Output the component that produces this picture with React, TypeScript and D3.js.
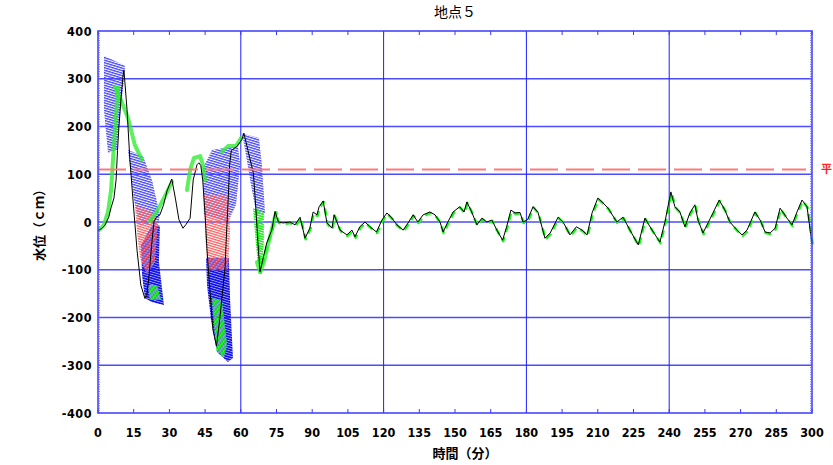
import React from "react";
import * as d3 from "d3";

// 時間（分）と水位（cm）
const tMin = [
  0, 1.5, 3, 4.5, 5.5, 6.7, 7.6, 8.2, 8.8, 9.7, 10.5, 10.9, 12.2, 13.4, 14.7, 16.4, 18, 19.7, 20.5, 21.5,
  22.5, 23.5, 24.5, 26, 27.5, 29, 31, 32.5, 34, 35.7, 37, 38.7, 40, 41.6, 42.4, 43.2, 44, 45, 45.8, 47,
  48.3, 49.8, 51, 52, 53.4, 54, 54.7, 55.3, 56, 58.3, 60.4, 61.3, 63, 65.3, 66.3, 67.4, 68.1, 69.5, 70.9, 73,
  74.4, 75.8, 77.8, 80.7, 82.8, 84.9, 87, 89, 90.4, 92, 92.9, 94.6, 96.2, 98.3, 99.2, 101.7, 104.6, 106.7, 108, 110,
  112.2, 114.3, 117, 119.3, 121.4, 123.5, 125.6, 128.2, 130.3, 132.4, 134.4, 136.6, 139.4, 141.6, 143.7, 145, 147, 149.2, 152, 153.8,
  155, 157, 159.2, 161.3, 163.4, 165.5, 167.6, 170, 171.7, 173.5, 175.2, 177.3, 178.6, 180.5, 182.8, 184.9, 187.8, 190, 193.3, 195.4,
  198.3, 201, 203.4, 205.5, 207.6, 210, 212.2, 214.3, 218, 220.6, 223.5, 227, 229.8, 232.8, 236.1, 238.2, 240.7, 242.4, 244.5, 246.6,
  248.7, 250.8, 252.1, 254.2, 256.3, 258.4, 261, 263.4, 265.5, 268.5, 270.6, 272.7, 276, 278.2, 280.3, 282.4, 284.5, 286.6, 289.5, 291.6,
  293.7, 295.8, 297.9, 300,
];
const level = [
  -18, -14, -6, 10, 30, 50, 88, 150, 200, 260, 305, 318, 235, 130, 46, -59, -132, -160, -155, -110,
  -50, 0, 10, 15, 35, 65, 90, 50, 5, -13, -5, 8, 88, 120, 124, 118, 88, 15, -59, -142,
  -226, -260, -210, -163, -94, -23, 46, 120, 150, 158, 172, 186, 150, 102, 30, -59, -104, -73, -44, -17,
  22, 0, -2, 0, -6, 10, -34, -13, 21, 15, 32, 44, -2, -13, 15, -17, -27, -17, -31, -10,
  0, -10, -21, 4, 19, 8, -6, -17, -2, 15, 0, 15, 21, 15, 0, -21, 0, 21, 32, 21,
  42, 21, -6, 8, 0, 4, -17, -38, -10, 25, 19, 20, 0, 5, 32, 20, -34, -23, 10, 0,
  -27, -10, -17, -27, 19, 50, 40, 29, 0, 10, -17, -48, 8, -17, -42, 0, 63, 32, 21, -10,
  19, 36, 4, -23, -2, 19, 46, 25, 0, -17, -27, -17, 21, 4, -21, -23, -13, 29, 8, -6,
  21, 46, 32, -45,
];

// 流況の範囲（時間, 水位）
const blueZones = [
  [[2.5, 348], [11.3, 327], [10.9, 297], [9.2, 224], [8, 151], [4.2, 145], [2.5, 235]],
  [[12.6, 151], [18.9, 138], [22.7, 88], [26, 15], [25.2, -6], [17.6, -6], [15.1, 46]],
  [[44.1, 113], [47.9, 151], [58.8, 159], [59.7, 119], [58, 36], [54.6, 0], [44.5, 15]],
  [[60.5, 186], [67.6, 176], [68.9, 119], [70.2, 17], [66.4, 21], [64.3, 77], [62.2, 140]],
];
const denseZones = [
  [[18.1, -48], [22.7, -6], [26, -8], [25.6, -84], [27.7, -174], [22.7, -168], [19.7, -159], [18.5, -111]],
  [[45.4, -75], [55, -75], [55.5, -163], [56.7, -285], [54.6, -293], [50, -272], [47.5, -205], [45.8, -132]],
];
const redZones = [
  [[15.5, 36], [21.8, 25], [25.2, 0], [23.9, -84], [20.6, -111], [17.6, -75], [16.4, -21]],
  [[44.5, 57], [54.6, 57], [55.5, -17], [54.6, -101], [46.2, -101], [45, -27]],
];
const greenZones = [
  [[21, -132], [24.8, -132], [26.5, -163], [21.8, -163]],
  [[47.9, -159], [52.1, -163], [54.2, -257], [52.9, -285], [49.6, -268]],
  [[65.1, 29], [69.7, 21], [69.7, -38], [68.9, -96], [67.2, -92], [66, -27]],
];
const greenBands = [
  [[0.8, -15], [2.5, -6], [4.2, 21], [5.5, 67], [6.3, 130], [7.1, 193], [8, 255], [8.4, 281]],
  [[7.1, 283], [9.7, 255], [12.6, 218], [15.5, 161], [18.5, 130]],
  [[21.8, 2], [24.4, 19], [27.3, 46], [29.4, 67], [31.1, 84]],
  [[37.4, 67], [38.7, 109], [40.3, 134], [42.9, 138], [44.1, 119], [45, 88]],
  [[52.1, 147], [54.6, 159], [58, 159], [60.1, 176]],
  [[66.8, -84], [68.1, -105], [69.7, -84], [71.4, -48], [73.5, -6], [74.8, 19]],
];

const meanLevel = 110;
const xTickLabels = [0, 15, 30, 45, 60, 75, 90, 105, 120, 135, 150, 165, 180, 195, 210, 225, 240, 255, 270, 285, 300];
const yTickLabels = [-400, -300, -200, -100, 0, 100, 200, 300, 400];
const xGrid = [60, 120, 180, 240];
const yGrid = [-300, -200, -100, 0, 100, 200, 300];

const W = 833;
const H = 465;
const left = 98, right = 812, top = 31, bottom = 413;

const numFont = "'DejaVu Sans Condensed', 'Liberation Sans Narrow', sans-serif";
const jpFont = "'Noto Sans CJK JP', sans-serif";

export default function App() {
  const x = d3.scaleLinear().domain([0, 300]).range([left, right]);
  const y = d3.scaleLinear().domain([-400, 400]).range([bottom, top]);

  const pts = tMin.map((t, i) => [t, level[i]] as [number, number]);
  const line = d3.line<[number, number]>().x((d) => x(d[0])).y((d) => y(d[1]));
  const calm = pts.filter((d) => d[0] >= 66);
  const poly = (z: number[][]) => z.map((d) => `${x(d[0])},${y(d[1])}`).join(" ");

  const yMinor = d3.range(-400, 401, 5);

  return (
    <svg width={W} height={H} style={{ position: "absolute", left: 0, top: 0, background: "#fff" }}>
      <defs>
        <pattern id="hb" width="6" height="2.4" patternUnits="userSpaceOnUse" patternTransform="rotate(17)">
          <rect width="6" height="1.3" fill="#4040ff" />
        </pattern>
        <pattern id="hd" width="6" height="2.4" patternUnits="userSpaceOnUse" patternTransform="rotate(17)">
          <rect width="6" height="1.9" fill="#1010f0" />
        </pattern>
        <pattern id="hr" width="6" height="2.4" patternUnits="userSpaceOnUse" patternTransform="rotate(17)">
          <rect width="6" height="1.3" fill="#ff5c5c" />
        </pattern>
        <pattern id="hg" width="6" height="2.4" patternUnits="userSpaceOnUse" patternTransform="rotate(17)">
          <rect width="6" height="1.6" fill="#22ee22" />
        </pattern>
      </defs>

      <text x={(left + right) / 2} y={17} textAnchor="middle" fontFamily={jpFont} fontSize={14}>地点５</text>

      {/* grid */}
      {yGrid.map((v) => (
        <line key={"gy" + v} x1={left} x2={right} y1={y(v)} y2={y(v)} stroke="#4b4bff" strokeWidth={1.5} />
      ))}
      {xGrid.map((t) => (
        <line key={"gx" + t} x1={x(t)} x2={x(t)} y1={top} y2={bottom} stroke="#1e1eff" strokeWidth={1} />
      ))}

      {/* hatched zones */}
      {blueZones.map((z, i) => <polygon key={"b" + i} points={poly(z)} fill="url(#hb)" />)}
      {denseZones.map((z, i) => <polygon key={"d" + i} points={poly(z)} fill="url(#hd)" />)}
      {redZones.map((z, i) => <polygon key={"r" + i} points={poly(z)} fill="url(#hr)" />)}
      {greenZones.map((z, i) => <polygon key={"g" + i} points={poly(z)} fill="url(#hg)" />)}
      {greenBands.map((z, i) => (
        <path key={"gb" + i} d={line(z as [number, number][]) || ""} fill="none" stroke="#33ee33"
          strokeWidth={4} strokeLinecap="round" strokeLinejoin="round" opacity={0.8} />
      ))}

      {/* green markers + main line */}
      <path d={line(calm) || ""} fill="none" stroke="#1cf51c" strokeWidth={2.6} strokeDasharray="7,5"
        transform="translate(0.6,1)" strokeLinejoin="round" />
      <path d={line(pts) || ""} fill="none" stroke="#000" strokeWidth={1} strokeLinejoin="round" />

      {/* mean level */}
      <line x1={left} x2={right - 6} y1={y(meanLevel)} y2={y(meanLevel)} stroke="#ff7a7a" strokeWidth={2} strokeDasharray="28,8" />
      <text x={right + 9} y={y(meanLevel) + 4} fill="#ff2020" fontFamily={jpFont} fontSize={11} fontWeight="bold">平</text>

      {/* frame and ticks */}
      <rect x={left} y={top} width={right - left} height={bottom - top} fill="none" stroke="#3a3aff" strokeWidth={1.5} />
      {xTickLabels.map((t) => (
        <g key={"xt" + t}>
          <line x1={x(t)} x2={x(t)} y1={top} y2={top + 4} stroke="#3a3aff" />
          <line x1={x(t)} x2={x(t)} y1={bottom} y2={bottom - 4} stroke="#3a3aff" />
          <text x={x(t)} y={437} textAnchor="middle" fontFamily={numFont} fontWeight="bold" fontSize={12.5}>{t}</text>
        </g>
      ))}
      {yMinor.map((v) => (
        <g key={"ym" + v}>
          <line x1={left} x2={left + 2} y1={y(v)} y2={y(v)} stroke="#5a5aff" strokeWidth={0.8} />
          <line x1={right} x2={right - 2} y1={y(v)} y2={y(v)} stroke="#5a5aff" strokeWidth={0.8} />
        </g>
      ))}
      {yTickLabels.map((v) => (
        <text key={"yl" + v} x={92} y={y(v) + 4.5} textAnchor="end" fontFamily={numFont} fontWeight="bold" fontSize={12.5} letterSpacing={0.5}>{v}</text>
      ))}

      <text x={465} y={458} textAnchor="middle" fontFamily={jpFont} fontSize={13} fontWeight="bold">時間（分）</text>
      <text transform={`translate(44,${(top + bottom) / 2}) rotate(-90)`} textAnchor="middle" fontFamily={jpFont} fontSize={13} fontWeight="bold">水位（ｃｍ）</text>
    </svg>
  );
}
